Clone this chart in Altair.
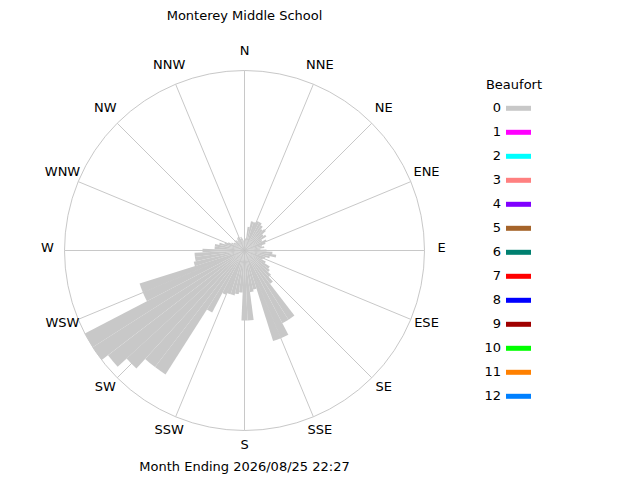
import math
import altair as alt
import pandas as pd

# ---------------- data ----------------
title_text = "Monterey Middle School"
footer_text = "Month Ending 2026/08/25 22:27"
legend_title = "Beaufort"

directions = list(range(0, 360, 5))
# wind frequency per 5-degree sector (same units as the outer ring = 180)
freq = [8, 12, 24, 30, 30, 32, 32, 30, 27, 29,
        24, 26, 20, 24, 22, 18, 20, 16, 22, 28,
        32, 26, 22, 20, 24, 30, 32, 36, 42, 82,
        82, 95, 95, 40, 42, 70, 70, 42, 44, 46,
        46, 48, 70, 147, 147, 160, 172, 180, 180, 110,
        110, 52, 50, 50, 42, 30, 30, 26, 21, 18,
        15, 13, 12, 14, 13, 12, 14, 15, 12, 14,
        12, 10]

compass_labels = ["N", "NNE", "NE", "ENE", "E", "ESE", "SE", "SSE",
                  "S", "SSW", "SW", "WSW", "W", "WNW", "NW", "NNW"]

beaufort_levels = list(range(13))
beaufort_colors = ["#c8c8c8", "#ff00ff", "#00ffff", "#ff8080", "#8000ff",
                   "#a5642a", "#008070", "#ff0000", "#0000ff", "#a00000",
                   "#00ff00", "#ff8000", "#0080ff"]

RMAX = 180
CX, CY = 236.5, 242.5
GRID = "#c8c8c8"
FONT = "DejaVu Sans"
FS = 13

# ---------------- tables ----------------
rose_df = pd.DataFrame({"dir": directions, "value": freq})
rose_df["t0"] = rose_df["dir"] - 2.5
rose_df["t1"] = rose_df["dir"] + 2.5
rose_df["cx"] = 0
rose_df["cy"] = 0

ring_df = pd.DataFrame({"t0": [0], "t1": [360], "value": [RMAX], "cx": [0], "cy": [0]})

grid_ang = [i * 22.5 for i in range(16)]
grid_df = pd.DataFrame({
    "x0": [0.0] * 16, "y0": [0.0] * 16,
    "x1": [RMAX * math.sin(math.radians(a)) for a in grid_ang],
    "y1": [RMAX * math.cos(math.radians(a)) for a in grid_ang],
})
lab_df = pd.DataFrame({
    "label": compass_labels,
    "x": [197 * math.sin(math.radians(a)) for a in grid_ang],
    "y": [197 * math.cos(math.radians(a)) for a in grid_ang],
})

leg_df = pd.DataFrame({"level": beaufort_levels, "color": beaufort_colors,
                       "txt": [str(v) for v in beaufort_levels]})

# ---------------- scales ----------------
xs = alt.Scale(domain=[-RMAX, RMAX], range=[CX - RMAX, CX + RMAX])
ys = alt.Scale(domain=[-RMAX, RMAX], range=[CY + RMAX, CY - RMAX])
ts = alt.Scale(domain=[0, 360], range=[0, 2 * math.pi])
rs = alt.Scale(type="linear", domain=[0, RMAX], range=[0, RMAX])

ring = alt.Chart(ring_df).mark_arc(fillOpacity=0, stroke=GRID, strokeWidth=1).encode(
    x=alt.X("cx:Q", scale=xs, axis=None),
    y=alt.Y("cy:Q", scale=ys, axis=None),
    theta=alt.Theta("t0:Q", scale=ts, stack=None),
    theta2="t1:Q",
    radius=alt.Radius("value:Q", scale=rs),
)

grid = alt.Chart(grid_df).mark_rule(color=GRID, strokeWidth=1).encode(
    x=alt.X("x0:Q", scale=xs, axis=None),
    y=alt.Y("y0:Q", scale=ys, axis=None),
    x2="x1:Q",
    y2="y1:Q",
)

wedges = alt.Chart(rose_df).mark_arc(color=beaufort_colors[0], stroke=None).encode(
    x=alt.X("cx:Q", scale=xs, axis=None),
    y=alt.Y("cy:Q", scale=ys, axis=None),
    theta=alt.Theta("t0:Q", scale=ts, stack=None),
    theta2="t1:Q",
    radius=alt.Radius("value:Q", scale=rs),
)

labels = alt.Chart(lab_df).mark_text(font=FONT, fontSize=FS, color="black",
                                     align="center", baseline="middle", dy=-3).encode(
    x=alt.X("x:Q", scale=xs, axis=None),
    y=alt.Y("y:Q", scale=ys, axis=None),
    text="label:N",
)

rose = alt.layer(ring, grid, wedges, labels)

ls = alt.Scale(domain=[0, 12], range=[100.3, 388.3])
leg_text = alt.Chart(leg_df).mark_text(font=FONT, fontSize=FS, color="black",
                                       align="right", baseline="middle").encode(
    x=alt.value(493),
    y=alt.Y("level:Q", scale=ls, axis=None),
    text="txt:N",
)
leg_bars = alt.Chart(leg_df).mark_rule(strokeWidth=5).encode(
    x=alt.value(498),
    x2=alt.value(523),
    y=alt.Y("level:Q", scale=ls, axis=None),
    color=alt.Color("color:N", scale=None),
)
leg_head = alt.Chart(pd.DataFrame({"t": [legend_title]})).mark_text(
    font=FONT, fontSize=FS, color="black", align="center", baseline="middle").encode(
    x=alt.value(506), y=alt.value(77), text="t:N")

legend = alt.layer(leg_text, leg_bars, leg_head)

head = alt.Chart(pd.DataFrame({"t": [title_text]})).mark_text(
    font=FONT, fontSize=FS, color="black", align="center", baseline="alphabetic").encode(
    x=alt.value(236.5), y=alt.value(11.5), text="t:N")
foot = alt.Chart(pd.DataFrame({"t": [footer_text]})).mark_text(
    font=FONT, fontSize=FS, color="black", align="center", baseline="middle").encode(
    x=alt.value(236.5), y=alt.value(459), text="t:N")

chart = alt.layer(rose, legend, head, foot).resolve_scale(
    x="independent", y="independent"
).properties(
    width=624, height=472, padding=0, autosize=alt.AutoSizeParams(type="none"),
    background="white",
).configure_view(stroke=None)

chart.save("out.html", embed_options={"renderer": "svg", "actions": False})
